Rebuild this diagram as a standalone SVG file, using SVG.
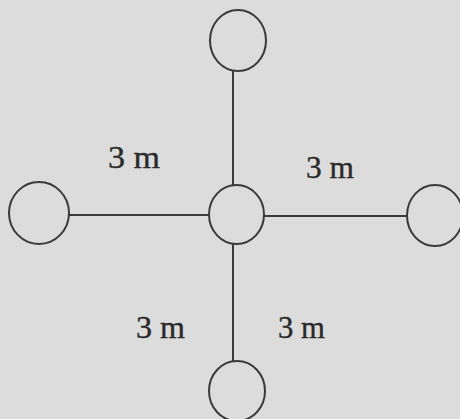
<svg xmlns="http://www.w3.org/2000/svg" width="460" height="419" viewBox="0 0 460 419">
<style>
.n{fill:none;stroke:#3a3a3a;stroke-width:2}
.c{stroke:#3a3a3a;stroke-width:2;fill:none}
.t{font-family:"Liberation Serif","Times New Roman",serif;font-size:32px;fill:#2a2a2a;stroke:#2a2a2a;stroke-width:0.4}
</style>
<rect width="460" height="419" fill="#dcdcdc"/>
<g id="connectors">
<line class="c" x1="233" y1="71" x2="233" y2="185"/>
<line class="c" x1="233" y1="244" x2="233" y2="361"/>
<line class="c" x1="69" y1="215" x2="209" y2="215"/>
<line class="c" x1="264" y1="216" x2="407" y2="216"/>
</g>
<g id="node-top"><ellipse class="n" cx="238" cy="40.5" rx="28" ry="30.5"/></g>
<g id="node-center"><ellipse class="n" cx="236.5" cy="214.5" rx="27.5" ry="29.5"/></g>
<g id="node-left"><ellipse class="n" cx="39" cy="213" rx="30" ry="31"/></g>
<g id="node-right"><ellipse class="n" cx="435" cy="215.5" rx="28" ry="30.5"/></g>
<g id="node-bottom"><ellipse class="n" cx="237" cy="391" rx="28" ry="30"/></g>
<g id="labels">
<text class="t" x="108" y="168" textLength="52" lengthAdjust="spacingAndGlyphs">3 m</text>
<text class="t" x="306" y="178" textLength="48" lengthAdjust="spacingAndGlyphs">3 m</text>
<text class="t" x="136" y="338" textLength="49" lengthAdjust="spacingAndGlyphs">3 m</text>
<text class="t" x="278" y="338" textLength="47" lengthAdjust="spacingAndGlyphs">3 m</text>
</g>
</svg>
